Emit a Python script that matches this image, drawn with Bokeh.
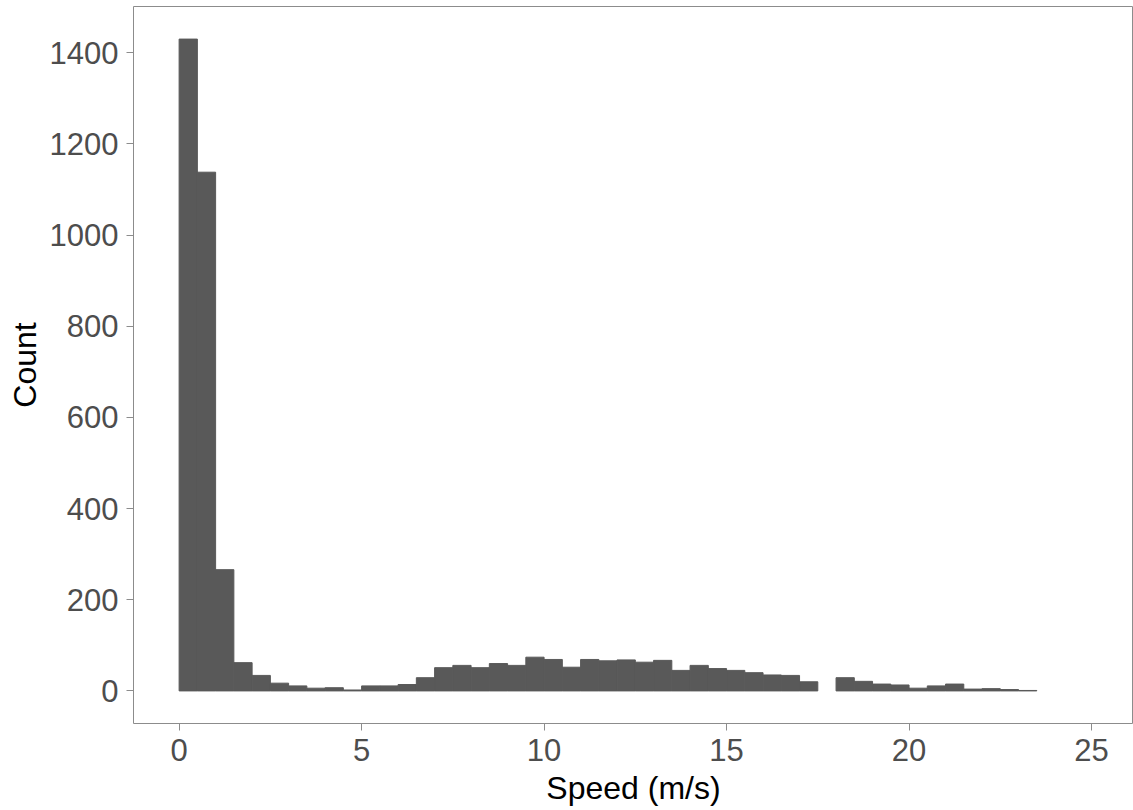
from bokeh.plotting import figure
from bokeh.models import Range1d, FixedTicker, ColumnDataSource
from bokeh.embed import file_html
from bokeh.resources import INLINE

# Histogram data (bin width 0.5 m/s)
bin_start = [0.0, 0.5, 1.0, 1.5, 2.0, 2.5, 3.0, 3.5, 4.0, 4.5,
             5.0, 5.5, 6.0, 6.5, 7.0, 7.5, 8.0, 8.5, 9.0, 9.5,
             10.0, 10.5, 11.0, 11.5, 12.0, 12.5, 13.0, 13.5, 14.0, 14.5,
             15.0, 15.5, 16.0, 16.5, 17.0, 17.5, 18.0, 18.5, 19.0, 19.5,
             20.0, 20.5, 21.0, 21.5, 22.0, 22.5, 23.0]
bin_width = 0.5
counts = [1430, 1138, 266, 62, 34, 17, 11, 6, 7, 2,
          11, 11, 14, 29, 51, 56, 51, 60, 56, 74,
          69, 52, 69, 66, 68, 63, 67, 45, 56, 49,
          45, 40, 35, 34, 20, 0, 29, 21, 15, 13,
          6, 11, 15, 4, 5, 3, 1]
x_ticks = [0, 5, 10, 15, 20, 25]
y_ticks = [0, 200, 400, 600, 800, 1000, 1200, 1400]

# empty bins are not drawn
pairs = [(b, c) for b, c in zip(bin_start, counts) if c > 0]
src = ColumnDataSource(dict(
    left=[b for b, c in pairs],
    right=[b + bin_width for b, c in pairs],
    top=[c for b, c in pairs],
    bottom=[0] * len(pairs),
))

FONT = "Liberation Sans"
GREY = "#8c8c8c"
BAR = "#595959"

p = figure(width=1133, height=810, output_backend="svg", toolbar_location=None,
           x_range=Range1d(-1.25, 26.15), y_range=Range1d(-71.5, 1501.5),
           min_border_left=133, min_border_right=0, min_border_top=6,
           min_border_bottom=87)

p.quad(left="left", right="right", top="top", bottom="bottom", source=src,
       fill_color=BAR, line_color=BAR, line_width=1)

p.grid.visible = False
p.outline_line_color = GREY
p.outline_line_width = 1
p.background_fill_color = "white"
p.border_fill_color = "white"

p.xaxis.ticker = FixedTicker(ticks=x_ticks)
p.yaxis.ticker = FixedTicker(ticks=y_ticks)

for ax in (p.xaxis, p.yaxis):
    ax.axis_line_color = None
    ax.major_tick_line_color = GREY
    ax.major_tick_out = 7
    ax.major_tick_in = 0
    ax.minor_tick_line_color = None
    ax.major_label_text_font = FONT
    ax.major_label_text_font_size = "31px"
    ax.major_label_text_color = "#4d4d4d"
    ax.axis_label_text_font = FONT
    ax.axis_label_text_font_size = "32px"
    ax.axis_label_text_font_style = "normal"
    ax.axis_label_text_color = "black"
    ax.major_label_standoff = 8

p.xaxis.axis_label = "Speed (m/s)"
p.yaxis.axis_label = "Count"
p.xaxis.axis_label_standoff = 6
p.yaxis.axis_label_standoff = 4

open("out.html", "w").write(file_html(p, INLINE))
